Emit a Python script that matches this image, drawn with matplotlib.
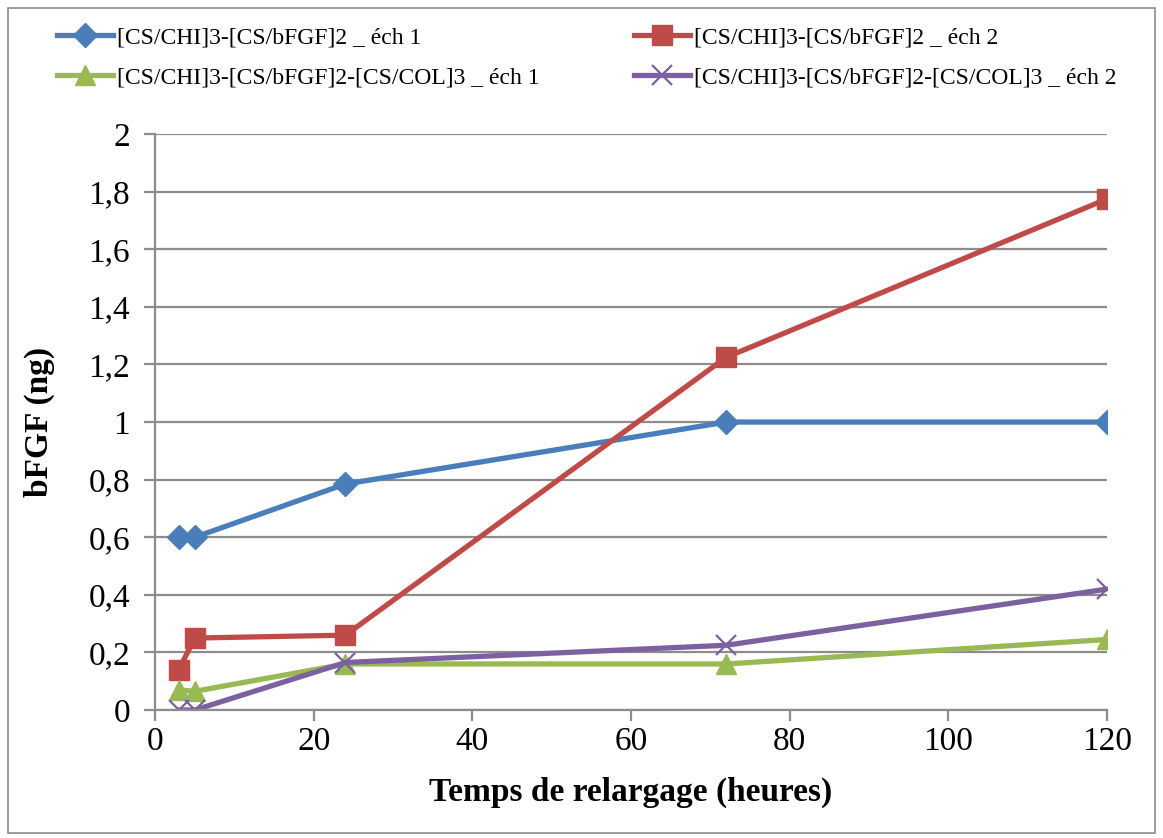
import matplotlib

matplotlib.use("Agg")
import matplotlib.pyplot as plt
from matplotlib.patches import Rectangle
from matplotlib.ticker import FuncFormatter, MultipleLocator

plt.rcParams["font.family"] = ["Liberation Serif", "DejaVu Serif"]

hours = [3, 5, 24, 72, 120]
ech1 = [0.60, 0.60, 0.785, 1.0, 1.0]
ech2 = [0.14, 0.25, 0.26, 1.225, 1.775]
col_ech1 = [0.07, 0.065, 0.16, 0.16, 0.245]
col_ech2 = [0.0, 0.0, 0.165, 0.225, 0.42]

labels = [
    "[CS/CHI]3-[CS/bFGF]2 _ éch 1",
    "[CS/CHI]3-[CS/bFGF]2 _ éch 2",
    "[CS/CHI]3-[CS/bFGF]2-[CS/COL]3 _ éch 1",
    "[CS/CHI]3-[CS/bFGF]2-[CS/COL]3 _ éch 2",
]

fig = plt.figure(figsize=(11.63, 8.38), dpi=100)
ax = fig.add_axes([0.1333, 0.1527, 0.8187, 0.6873])

lw = 3.8
h1, = ax.plot(hours, ech1, color="#4a7ebb", lw=lw, marker="D", ms=12, label=labels[0])
h2, = ax.plot(hours, ech2, color="#be4b48", lw=lw, marker="s", ms=14, label=labels[1])
h3, = ax.plot(hours, col_ech1, color="#98b954", lw=lw, marker="^", ms=15, label=labels[2])
h4, = ax.plot(hours, col_ech2, color="#7d60a0", lw=lw, marker="x", ms=14, mew=1.6, label=labels[3])

ax.set_xlim(0, 120)
ax.set_ylim(0, 2)
ax.xaxis.set_major_locator(MultipleLocator(20))
ax.yaxis.set_major_locator(MultipleLocator(0.2))
ax.yaxis.set_major_formatter(FuncFormatter(lambda v, _: f"{v:g}".replace(".", ",")))
ax.grid(axis="y", color="#8c8c8c", lw=1.6)
ax.set_axisbelow(True)
for s in ("top", "right"):
    ax.spines[s].set_visible(False)
for s in ("left", "bottom"):
    ax.spines[s].set_color("#8c8c8c")
    ax.spines[s].set_linewidth(1.6)
ax.tick_params(axis="both", labelsize=24, color="#8c8c8c", width=1.6, length=8)
ax.tick_params(axis="y", pad=10)
ax.tick_params(axis="x", pad=4)

ax.set_xlabel("Temps de relargage (heures)", fontsize=24, fontweight="bold", labelpad=14)
ax.set_ylabel("bFGF (ng)", fontsize=24, fontweight="bold", labelpad=24)

# row-wise order like the original legend
fig.legend(
    handles=[h1, h3, h2, h4],
    loc="upper left",
    bbox_to_anchor=(0.049, 0.968),
    borderpad=0,
    borderaxespad=0,
    ncol=2,
    frameon=False,
    fontsize=17,
    handlelength=2.37,
    handletextpad=0.17,
    columnspacing=4.0,
    labelspacing=0.8,
)

fig.patches.append(
    Rectangle((0.007, 0.006), 0.986, 0.985, transform=fig.transFigure,
              fill=False, edgecolor="#8c8c8c", lw=1.2)
)

fig.savefig("out.png")
